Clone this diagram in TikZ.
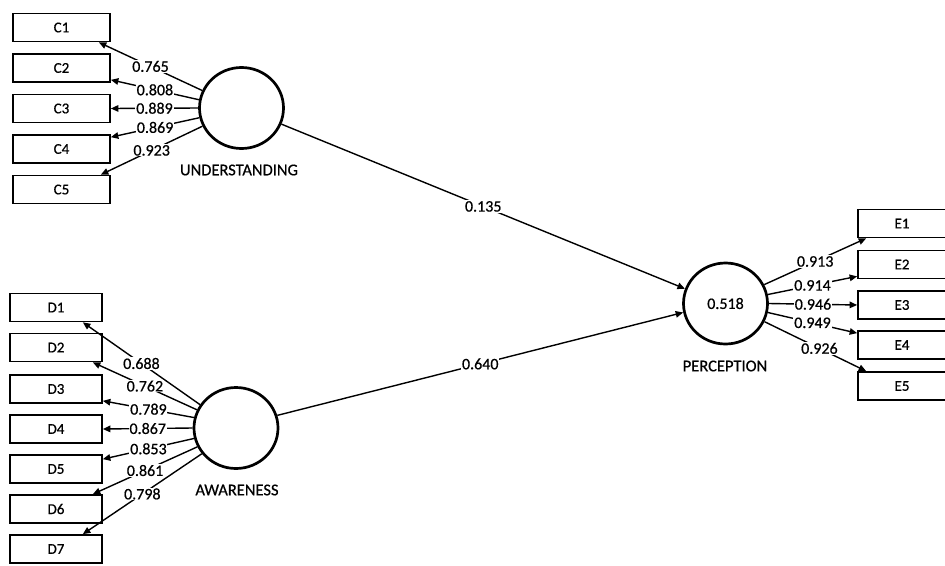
\documentclass[tikz,border=0pt]{standalone}
\usepackage{fontspec}
\setmainfont{Carlito}[FakeBold=0.6]
\usetikzlibrary{arrows.meta,shapes.geometric}
\begin{document}
\begin{tikzpicture}[x=1pt,y=-1pt,
 ind/.style={draw, line width=1.7pt, minimum height=28pt, inner sep=0pt, font=\fontsize{15}{15}\selectfont},
 indc/.style={ind, minimum width=97pt},
 indd/.style={ind, minimum width=92pt},
 inde/.style={ind, minimum width=88pt},
 lat/.style={draw, ellipse, line width=2.7pt, minimum width=84pt, minimum height=81pt, inner sep=0pt, font=\fontsize{16}{16}\selectfont},
 lname/.style={font=\fontsize{16.5}{16.5}\selectfont},
 conn/.style={line width=1.4pt, -{Triangle[length=7.5pt,width=6.5pt]}},
 val/.style={fill=white, inner sep=0.8pt, font=\fontsize{16}{16}\selectfont}]
\useasboundingbox (0,0) rectangle (945,565);
\clip (0,0) rectangle (945,565);
\fill[white] (0,0) rectangle (945,565);

% indicator boxes
\node[indc] (C1) at (61.5,27.5) {C1};
\node[indc] (C2) at (61.5,68) {C2};
\node[indc] (C3) at (61.5,108.5) {C3};
\node[indc] (C4) at (61.5,149) {C4};
\node[indc] (C5) at (61.5,189.5) {C5};

\node[indd] (D1) at (56,307.5) {D1};
\node[indd] (D2) at (56,347.5) {D2};
\node[indd] (D3) at (56,389) {D3};
\node[indd] (D4) at (56,429) {D4};
\node[indd] (D5) at (56,469) {D5};
\node[indd] (D6) at (56,509) {D6};
\node[indd] (D7) at (56,549) {D7};

\node[inde] (E1) at (902,223.5) {E1};
\node[inde] (E2) at (902,264.5) {E2};
\node[inde] (E3) at (902,305) {E3};
\node[inde] (E4) at (902,345) {E4};
\node[inde] (E5) at (902,386) {E5};

% latent variables
\node[lat] (U) at (241.5,108) {};
\node[lat] (A) at (236,428) {};
\node[lat] (P) at (725.5,303.5) {0.518};
\node[lname] (Ul) at (239,170) {UNDERSTANDING};
\node[lname] (Al) at (237,490) {AWARENESS};
\node[lname] (Pl) at (725,366) {PERCEPTION};

% outer loadings UNDERSTANDING
\draw[conn] (U.156) -- node[val]{0.765} ([xshift=-12pt]C1.south east);
\draw[conn] (U.169) -- node[val]{0.808} ([yshift=3pt]C2.south east);
\draw[conn] (U.180) -- node[val]{0.889} (C3.east);
\draw[conn] (U.193) -- node[val]{0.869} ([yshift=-3pt]C4.north east);
\draw[conn] (U.205) -- node[val]{0.923} ([xshift=-10pt]C5.north east);

% outer loadings AWARENESS
\draw[conn] (A.147) -- node[val]{0.688} ([xshift=-20pt]D1.south east);
\draw[conn] (A.155) -- node[val]{0.762} ([xshift=-10pt]D2.south east);
\draw[conn] (A.166) -- node[val]{0.789} ([yshift=3pt]D3.south east);
\draw[conn] (A.180) -- node[val]{0.867} (D4.east);
\draw[conn] (A.194) -- node[val]{0.853} ([yshift=-5pt]D5.north east);
\draw[conn] (A.206) -- node[val]{0.861} ([xshift=-10pt]D6.north east);
\draw[conn] (A.217) -- node[val]{0.798} ([xshift=-20pt]D7.north east);

% outer loadings PERCEPTION
\draw[conn] (P.26) -- node[val]{0.913} ([xshift=9pt]E1.south west);
\draw[conn] (P.12.6) -- node[val]{0.914} ([yshift=3pt]E2.south west);
\draw[conn] (P.0) -- node[val]{0.946} (E3.west);
\draw[conn] (P.-12.6) -- node[val]{0.949} ([yshift=-3pt]E4.north west);
\draw[conn] (P.-25) -- node[val,pos=0.54]{0.926} ([xshift=9pt]E5.north west);

% structural paths
\draw[conn] (U.338) -- node[val]{0.135} (P.160);
\draw[conn] (A.17) -- node[val]{0.640} (P.192);
\end{tikzpicture}
\end{document}
